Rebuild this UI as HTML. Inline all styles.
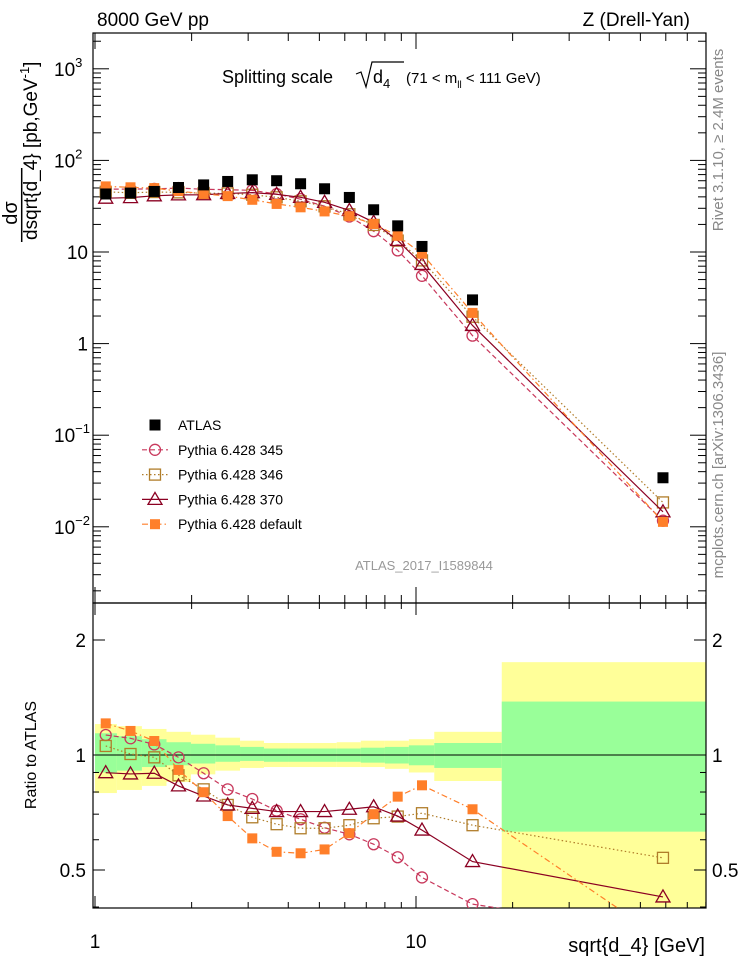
<!DOCTYPE html>
<html><head><meta charset="utf-8"><style>
body{margin:0;background:#fff}
svg{display:block;font-family:"Liberation Sans",sans-serif}
</style></head><body>
<svg id="c" width="746" height="972" xmlns="http://www.w3.org/2000/svg"></svg>
<script>
const xCenters=[1.08,1.29,1.53,1.82,2.18,2.59,3.09,3.68,4.37,5.19,6.2,7.38,8.77,10.44,15.0,58.8];
const binEdges=[1.0,1.17,1.40,1.67,1.99,2.37,2.83,3.36,4.02,4.76,5.66,6.73,8.0,9.5,11.4,18.5,190];
const atlas=[43,44,45.8,50.6,54,58.9,61.4,60,55.6,49,39.4,28.9,19.3,11.5,3.0,0.0343];
const r345=[1.128,1.106,1.066,0.986,0.896,0.813,0.767,0.715,0.679,0.645,0.620,0.584,0.540,0.478,0.407,0.34];
const r346=[1.056,1.006,0.986,0.885,0.813,0.740,0.687,0.659,0.643,0.643,0.655,0.683,0.690,0.704,0.655,0.538];
const r370=[0.899,0.892,0.896,0.830,0.781,0.740,0.725,0.711,0.711,0.711,0.721,0.732,0.692,0.636,0.526,0.425];
const rDef=[1.21,1.156,1.088,0.914,0.799,0.692,0.605,0.558,0.553,0.566,0.624,0.700,0.778,0.833,0.721,0.33];
const totUp=[1.205,1.19,1.17,1.15,1.13,1.11,1.09,1.075,1.075,1.075,1.08,1.09,1.09,1.10,1.15,1.75];
const totDn=[0.795,0.81,0.83,0.85,0.89,0.91,0.925,0.93,0.93,0.93,0.93,0.93,0.92,0.90,0.855,0.38];
const statUp=[1.14,1.12,1.10,1.08,1.07,1.06,1.05,1.04,1.04,1.04,1.04,1.045,1.05,1.06,1.075,1.38];
const statDn=[0.90,0.91,0.93,0.94,0.95,0.96,0.965,0.96,0.96,0.96,0.96,0.955,0.95,0.94,0.925,0.63];

const NS="http://www.w3.org/2000/svg";
const svg=document.getElementById('c');
const L=93,R=706,T1=33,B1=603,T2=603,B2=908;
const sx=v=>95+321*Math.log10(v);
const sy=v=>252-91.6*(Math.log10(v)-1);
const ry=v=>755-382*Math.log10(v);
function mk(tag,at,parent){const e=document.createElementNS(NS,tag);for(const k in at)e.setAttribute(k,at[k]);(parent||svg).appendChild(e);return e;}
function tx(x,y,s,at,parent){const e=mk('text',Object.assign({x:x,y:y},at||{}),parent);e.textContent=s;return e;}
const defs=mk('defs',{});
const c1=mk('clipPath',{id:'cp1'},defs);mk('rect',{x:L,y:T1,width:R-L,height:B1-T1},c1);
const c2=mk('clipPath',{id:'cp2'},defs);mk('rect',{x:L,y:T2,width:R-L,height:B2-T2},c2);

const gBand=mk('g',{'clip-path':'url(#cp2)'});


for(let i=0;i<totUp.length;i++){
  const x0=sx(binEdges[i]),x1=sx(binEdges[i+1]);
  const y=mk('rect',{x:x0,y:ry(totUp[i]),width:x1-x0,height:ry(totDn[i])-ry(totUp[i]),fill:'#ffff99'},gBand);
  
  
}
for(let i=0;i<statUp.length;i++){
  const x0=sx(binEdges[i]),x1=sx(binEdges[i+1]);
  const g=mk('rect',{x:x0,y:ry(statUp[i]),width:x1-x0,height:ry(statDn[i])-ry(statUp[i]),fill:'#99ff99'},gBand);
  
  
}
mk('line',{x1:L,x2:R,y1:ry(1),y2:ry(1),stroke:'#000','stroke-width':1});

mk('rect',{x:L,y:T1,width:R-L,height:B1-T1,fill:'none',stroke:'#000','stroke-width':1.2});
mk('rect',{x:L,y:T2,width:R-L,height:B2-T2,fill:'none',stroke:'#000','stroke-width':1.2});

function xticks(top,bot,maj,min){
  for(let d=0;d<=1;d++)for(let m=1;m<=9;m++){
    const v=m*Math.pow(10,d);if(sx(v)<L||sx(v)>R)continue;
    const len=m===1?maj:min;
    mk('line',{x1:sx(v),x2:sx(v),y1:bot,y2:bot-len,stroke:'#000'});
    mk('line',{x1:sx(v),x2:sx(v),y1:top,y2:top+len,stroke:'#000'});
  }
}
xticks(T1,B1,16,8);xticks(T2,B2,12,6);
for(let e=-3;e<=3;e++)for(let m=1;m<=9;m++){
  const v=m*Math.pow(10,e);const y=sy(v);if(y<T1||y>B1)continue;
  const len=m===1?16:8;
  mk('line',{x1:L,x2:L+len,y1:y,y2:y,stroke:'#000'});
  mk('line',{x1:R,x2:R-len,y1:y,y2:y,stroke:'#000'});
}
[0.4,0.5,0.6,0.7,0.8,0.9,1,2].forEach(v=>{const y=ry(v);const len=(v===0.5||v===1||v===2)?12:6;
  mk('line',{x1:L,x2:L+len,y1:y,y2:y,stroke:'#000'});mk('line',{x1:R,x2:R-len,y1:y,y2:y,stroke:'#000'});});

const fs={'font-size':19};
tx(95,948,'1',Object.assign({'text-anchor':'middle'},fs));
tx(416,948,'10',Object.assign({'text-anchor':'middle'},fs));
const ylab=[[3,'10','3'],[2,'10','2'],[1,'10',''],[0,'1',''],[-1,'10','−1'],[-2,'10','−2']];
ylab.forEach(a=>{const y=sy(Math.pow(10,a[0]))+7;
  if(a[2]){const t=tx(54,y,a[1],fs);const s=mk('tspan',{dy:-9,'font-size':13},t);s.textContent=a[2];}
  else tx(88,y,a[1],Object.assign({'text-anchor':'end'},fs));});
[[2,'2'],[1,'1'],[0.5,'0.5']].forEach(a=>{tx(86,ry(a[0])+7,a[1],Object.assign({'text-anchor':'end'},fs));tx(712,ry(a[0])+7,a[1],fs);});

tx(705,952,'sqrt{d_4} [GeV]',{'font-size':20,'text-anchor':'end'});
tx(0,0,'Ratio to ATLAS',{'font-size':16,'text-anchor':'middle',transform:'translate(36,755) rotate(-90)'});
const yt=mk('g',{transform:'translate(0,205) rotate(-90)'});


tx(-8,17,'dσ',{'font-size':20,'text-anchor':'middle'},yt);
mk('line',{x1:-37,x2:37,y1:21.7,y2:21.7,stroke:'#000','stroke-width':1.5},yt);
const ylt=tx(-35,37,'dsqrt{d_4} [pb,GeV',{'font-size':19},yt);
const yls=mk('tspan',{dy:-8,'font-size':13},ylt);yls.textContent='-1';
const yle=mk('tspan',{dy:8},ylt);yle.textContent=']';

tx(97,26,'8000 GeV pp',{'font-size':19});
tx(690,26,'Z (Drell-Yan)',{'font-size':19,'text-anchor':'end'});
tx(222,83,'Splitting scale',{'font-size':18});
mk('path',{d:'M356 74 L361 72 L366 87 L372 62 L404 62',fill:'none',stroke:'#000','stroke-width':1.2});
const dd=tx(373,83,'d',{'font-size':18});const d4=mk('tspan',{dy:5,'font-size':13},dd);d4.textContent='4';
const mm=tx(406,83,'(71 < m',{'font-size':15});const ll=mk('tspan',{dy:5,'font-size':10},mm);ll.textContent='ll';const mm2=mk('tspan',{dy:-5},mm);mm2.textContent=' < 111 GeV)';
tx(424,570,'ATLAS_2017_I1589844',{'font-size':13,fill:'#999','text-anchor':'middle'});
tx(0,0,'Rivet 3.1.10, ≥ 2.4M events',{'font-size':15,fill:'#888','text-anchor':'middle',transform:'translate(723,140) rotate(-90)'});
tx(0,0,'mcplots.cern.ch [arXiv:1306.3436]',{'font-size':15,fill:'#888','text-anchor':'middle',transform:'translate(723,465) rotate(-90)'});

const series=[
 {name:'pythia-345',r:r345,color:'#c8385c',dash:'5,3',mark:'circle',label:'Pythia 6.428 345'},
 {name:'pythia-346',r:r346,color:'#b07d2a',dash:'1.5,2.5',mark:'osq',label:'Pythia 6.428 346'},
 {name:'pythia-370',r:r370,color:'#8b0022',dash:'',mark:'tri',label:'Pythia 6.428 370'},
 {name:'pythia-default',r:rDef,color:'#ff7f2a',dash:'6,3,1.5,3',mark:'fsq',label:'Pythia 6.428 default'}];
function marker(g,type,x,y,col){
  if(type==='circle')return mk('circle',{cx:x,cy:y,r:5.5,fill:'none',stroke:col,'stroke-width':1.3},g);
  if(type==='osq')return mk('rect',{x:x-5.5,y:y-5.5,width:11,height:11,fill:'none',stroke:col,'stroke-width':1.3},g);
  if(type==='tri')return mk('path',{d:`M${x} ${y-7}L${x+7} ${y+5}L${x-7} ${y+5}Z`,fill:'none',stroke:col,'stroke-width':1.3},g);
  if(type==='fsq')return mk('rect',{x:x-5,y:y-5,width:10,height:10,fill:col},g);
  if(type==='atlas')return mk('rect',{x:x-5.5,y:y-5.5,width:11,height:11,fill:'#000'},g);
}
const gTop=mk('g',{'clip-path':'url(#cp1)'});


const gRat=mk('g',{'clip-path':'url(#cp2)'});


series.forEach(s=>{
  const vals=s.r.map((r,i)=>r*atlas[i]);
  const gt=mk('g',{},gTop);
  
  
  mk('polyline',{points:vals.map((v,i)=>sx(xCenters[i])+','+sy(v)).join(' '),fill:'none',stroke:s.color,'stroke-width':1.2,'stroke-dasharray':s.dash},gt);
  vals.forEach((v,i)=>{const m=marker(gt,s.mark,sx(xCenters[i]),sy(v),s.color);
    
    });
  const gr=mk('g',{},gRat);
  
  
  mk('polyline',{points:s.r.map((v,i)=>sx(xCenters[i])+','+ry(v)).join(' '),fill:'none',stroke:s.color,'stroke-width':1.2,'stroke-dasharray':s.dash},gr);
  s.r.forEach((v,i)=>{const m=marker(gr,s.mark,sx(xCenters[i]),ry(v),s.color);
    
    });
});
const ga=mk('g',{},gTop);


atlas.forEach((v,i)=>{const m=marker(ga,'atlas',sx(xCenters[i]),sy(v),'#000');
  
  });

const lg=mk('g',{});


const ents=[{label:'ATLAS',mark:'atlas',color:'#000',dash:null}].concat(series);
ents.forEach((s,i)=>{const y=425+i*24.8;
  const e=mk('g',{},lg);
  
  
  if(s.dash!==null)mk('line',{x1:142,x2:168,y1:y,y2:y,stroke:s.color,'stroke-width':1.2,'stroke-dasharray':s.dash},e);
  marker(e,s.mark,155,y,s.color);
  tx(178,y+5,s.label,{'font-size':14},e);
});
</script>
</body></html>
